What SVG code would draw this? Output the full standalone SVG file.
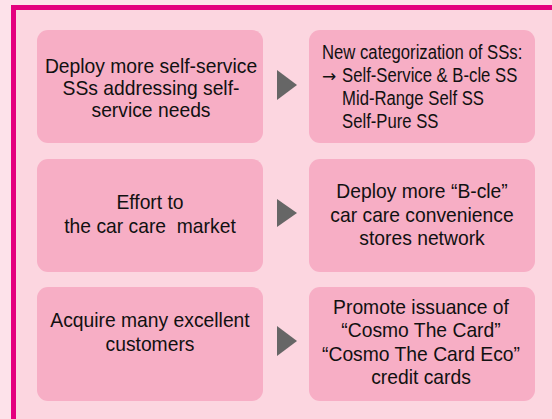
<svg xmlns="http://www.w3.org/2000/svg" width="552" height="419" viewBox="0 0 552 419">
  <style>
    .box { fill: #f7aec5; }
    .t { font-family: "Liberation Sans", Arial, sans-serif; font-size: 20px; fill: #111; }
    .c { text-anchor: middle; }
    .tri { fill: #666666; }
  </style>
  <!-- page background and inner panel -->
  <rect x="0" y="0" width="552" height="419" fill="#fde2ea"/>
  <rect x="14" y="8" width="538" height="411" fill="#fcd6e0"/>
  <!-- magenta frame: top and left edges -->
  <path d="M13.5 419 V7.5 H552" fill="none" stroke="#e4007f" stroke-width="5"/>

  <g id="n1">
    <rect class="box" x="37" y="30" width="226" height="113" rx="11"/>
    <g transform="translate(151 0) scale(0.965 1)">
      <text class="t c" x="0" y="73">Deploy more self-service</text>
      <text class="t c" x="0" y="95">SSs addressing self-</text>
      <text class="t c" x="0" y="117">service needs</text>
    </g>
  </g>
  <g id="n2">
    <rect class="box" x="309" y="30" width="226" height="113" rx="11"/>
    <text x="322" y="82" font-family="'DejaVu Sans', sans-serif" font-size="17" fill="#111">→</text>
    <g transform="translate(322 0) scale(0.835 1)">
      <text class="t" x="0" y="59" font-size="21">New categorization of SSs:</text>
      <text class="t" x="24" y="82" font-size="21">Self-Service &amp; B-cle SS</text>
      <text class="t" x="24" y="105" font-size="21">Mid-Range Self SS</text>
      <text class="t" x="24" y="128" font-size="21">Self-Pure SS</text>
    </g>
  </g>
  <g id="n3">
    <rect class="box" x="37" y="159" width="226" height="113" rx="11"/>
    <g transform="translate(150 0) scale(0.965 1)">
      <text class="t c" x="0" y="209">Effort to</text>
      <text class="t c" x="0" y="233" xml:space="preserve">the car care  market</text>
    </g>
  </g>
  <g id="n4">
    <rect class="box" x="309" y="159" width="226" height="113" rx="11"/>
    <g transform="translate(422 0) scale(0.965 1)">
      <text class="t c" x="0" y="198">Deploy more “B-cle”</text>
      <text class="t c" x="0" y="222">car care convenience</text>
      <text class="t c" x="0" y="245">stores network</text>
    </g>
  </g>
  <g id="n5">
    <rect class="box" x="37" y="287" width="226" height="114" rx="11"/>
    <g transform="translate(150 0) scale(0.965 1)">
      <text class="t c" x="0" y="327">Acquire many excellent</text>
      <text class="t c" x="0" y="351">customers</text>
    </g>
  </g>
  <g id="n6">
    <rect class="box" x="309" y="287" width="226" height="114" rx="11"/>
    <g transform="translate(421 0) scale(0.965 1)">
      <text class="t c" x="0" y="314">Promote issuance of</text>
      <text class="t c" x="0" y="337">“Cosmo The Card”</text>
      <text class="t c" x="0" y="361">“Cosmo The Card Eco”</text>
      <text class="t c" x="0" y="384">credit cards</text>
    </g>
  </g>

  <g id="connectors">
    <polygon class="tri" points="277,70 297,85 277,100"/>
    <polygon class="tri" points="277,199 297,213 277,227"/>
    <polygon class="tri" points="277,326 297,341 277,356"/>
  </g>
</svg>
